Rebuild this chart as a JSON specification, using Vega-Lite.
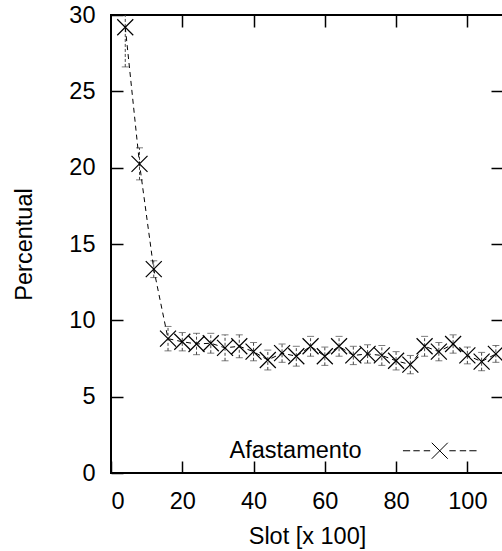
{
  "$schema": "https://vega.github.io/schema/vega-lite/v6.json",
  "width": 392,
  "height": 458,
  "autosize": "none",
  "padding": {"left": 111, "top": 15, "right": 0, "bottom": 78},
  "background": "white",
  "config": {
    "view": {"stroke": "black", "strokeWidth": 2},
    "font": "Liberation Sans",
    "axis": {
      "domain": false,
      "grid": false,
      "tickColor": "black",
      "tickWidth": 1.5,
      "tickSize": -12,
      "labelColor": "black",
      "labelFont": "Liberation Sans",
      "labelFontSize": 23.5,
      "titleFont": "Liberation Sans",
      "titleFontSize": 23.5,
      "titleFontWeight": "normal",
      "titleColor": "black"
    }
  },
  "data": {
    "values": [
      {"slot": 4, "pct": 29.2, "err": 2.6, "series": "Afastamento"},
      {"slot": 8, "pct": 20.25, "err": 1.05, "series": "Afastamento"},
      {"slot": 12, "pct": 13.35, "err": 0.55, "series": "Afastamento"},
      {"slot": 16, "pct": 8.8, "err": 0.8, "series": "Afastamento"},
      {"slot": 20, "pct": 8.6, "err": 0.6, "series": "Afastamento"},
      {"slot": 24, "pct": 8.45, "err": 0.7, "series": "Afastamento"},
      {"slot": 28, "pct": 8.5, "err": 0.65, "series": "Afastamento"},
      {"slot": 32, "pct": 8.2, "err": 0.85, "series": "Afastamento"},
      {"slot": 36, "pct": 8.3, "err": 0.75, "series": "Afastamento"},
      {"slot": 40, "pct": 7.95, "err": 0.6, "series": "Afastamento"},
      {"slot": 44, "pct": 7.4, "err": 0.65, "series": "Afastamento"},
      {"slot": 48, "pct": 7.85, "err": 0.6, "series": "Afastamento"},
      {"slot": 52, "pct": 7.65, "err": 0.65, "series": "Afastamento"},
      {"slot": 56, "pct": 8.3, "err": 0.65, "series": "Afastamento"},
      {"slot": 60, "pct": 7.65, "err": 0.6, "series": "Afastamento"},
      {"slot": 64, "pct": 8.3, "err": 0.65, "series": "Afastamento"},
      {"slot": 68, "pct": 7.7, "err": 0.6, "series": "Afastamento"},
      {"slot": 72, "pct": 7.8, "err": 0.6, "series": "Afastamento"},
      {"slot": 76, "pct": 7.7, "err": 0.65, "series": "Afastamento"},
      {"slot": 80, "pct": 7.35, "err": 0.6, "series": "Afastamento"},
      {"slot": 84, "pct": 7.1, "err": 0.6, "series": "Afastamento"},
      {"slot": 88, "pct": 8.3, "err": 0.65, "series": "Afastamento"},
      {"slot": 92, "pct": 7.95, "err": 0.6, "series": "Afastamento"},
      {"slot": 96, "pct": 8.45, "err": 0.6, "series": "Afastamento"},
      {"slot": 100, "pct": 7.7, "err": 0.55, "series": "Afastamento"},
      {"slot": 104, "pct": 7.3, "err": 0.6, "series": "Afastamento"},
      {"slot": 108, "pct": 7.8, "err": 0.55, "series": "Afastamento"}
    ]
  },
  "resolve": {"axis": {"x": "independent", "y": "independent"}},
  "layer": [
    {
      "mark": {
        "type": "errorbar",
        "clip": true,
        "color": "#444444",
        "rule": {"strokeDash": [3, 2], "strokeWidth": 1},
        "ticks": {"size": 7, "strokeWidth": 1, "strokeDash": [3, 2]}
      },
      "encoding": {
        "x": {"field": "slot", "type": "quantitative", "scale": {"domain": [0, 110], "nice": false, "zero": false}, "axis": null},
        "y": {"field": "pct", "type": "quantitative", "scale": {"domain": [0, 30], "nice": false}, "axis": null},
        "yError": {"field": "err"}
      }
    },
    {
      "mark": {"type": "line", "color": "black", "strokeWidth": 1, "strokeDash": [5, 4], "clip": true},
      "encoding": {
        "x": {"field": "slot", "type": "quantitative", "axis": {"orient": "bottom", "values": [0, 20, 40, 60, 80, 100], "title": "Slot [x 100]", "labelPadding": 28, "titlePadding": 12}},
        "y": {"field": "pct", "type": "quantitative", "axis": {"orient": "left", "values": [0, 5, 10, 15, 20, 25, 30], "title": "Percentual", "labelPadding": 28, "titlePadding": 32}}
      }
    },
    {
      "mark": {"type": "point", "shape": "M-1,-1L1,1M-1,1L1,-1", "size": 256, "filled": false, "strokeWidth": 1.2, "opacity": 1, "clip": true},
      "encoding": {
        "x": {"field": "slot", "type": "quantitative", "axis": {"orient": "top", "values": [20, 40, 60, 80, 100], "labels": false, "title": null}},
        "y": {"field": "pct", "type": "quantitative", "axis": {"orient": "right", "values": [5, 10, 15, 20, 25], "labels": false, "title": null}},
        "color": {
          "field": "series",
          "type": "nominal",
          "scale": {"range": ["black"]},
          "legend": {
            "orient": "none",
            "legendX": 317,
            "legendY": 424,
            "title": null,
            "padding": 0,
            "symbolType": "M-4.6,0L-3.7,0M-3.3,0L-2.5,0M-2,0L-1.2,0M1.2,0L2,0M2.5,0L3.3,0M3.7,0L4.6,0M-1,-1L1,1M-1,1L1,-1",
            "symbolSize": 256,
            "symbolStrokeWidth": 1,
            "symbolFillColor": "transparent",
            "labelFont": "Liberation Sans",
            "labelFontSize": 23.5,
            "labelColor": "black",
            "labelAlign": "right",
            "labelOffset": -90
          }
        }
      }
    }
  ]
}
